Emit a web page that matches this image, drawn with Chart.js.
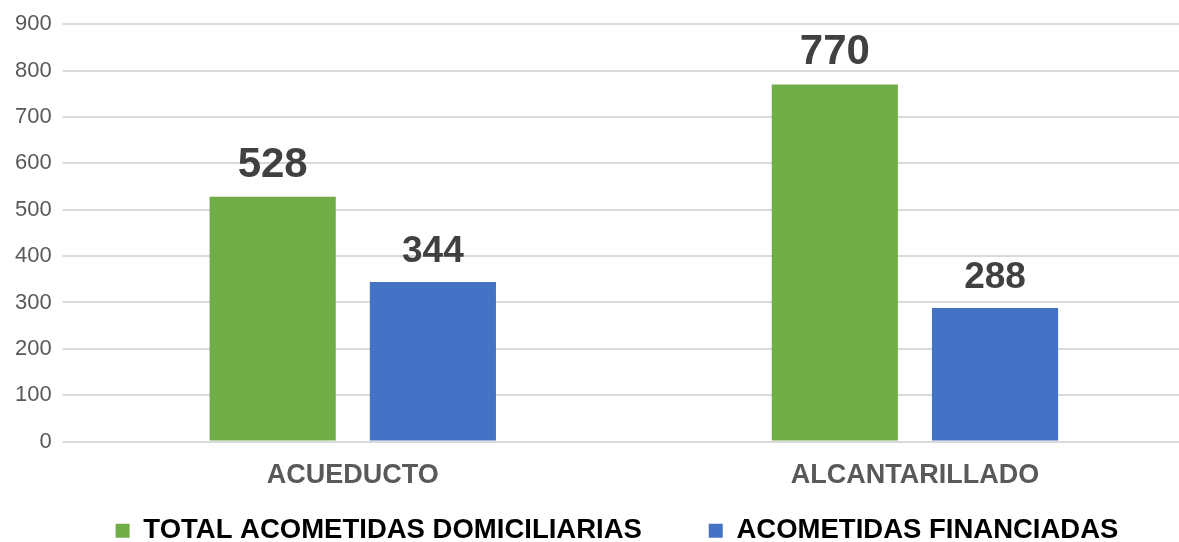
<!DOCTYPE html>
<html>
<head>
<meta charset="utf-8">
<script src="https://cdn.jsdelivr.net/npm/chart.js@4.4.0/dist/chart.umd.min.js"></script>
<style>
  html, body { margin: 0; padding: 0; background: #fff; overflow: hidden; }
  #wrap { position: relative; width: 1230px; height: 542px; }
</style>
</head>
<body>
<div id="wrap"><canvas id="acometidasChart"></canvas></div>
<script>
// data
const categories = ['ACUEDUCTO', 'ALCANTARILLADO'];
const totalAcometidas = [528, 770];
const acometidasFinanciadas = [344, 288];
const seriesNames = ['TOTAL ACOMETIDAS DOMICILIARIAS', 'ACOMETIDAS FINANCIADAS'];

const FONT = "'Liberation Sans', Arial, sans-serif";

// value labels above the bars
const barLabels = {
    id: 'barLabels',
    afterDatasetsDraw(chart) {
        const ctx = chart.ctx;
        ctx.save();
        ctx.fillStyle = '#404040';
        ctx.textAlign = 'center';
        ctx.textBaseline = 'alphabetic';
        chart.data.datasets.forEach(function (ds, i) {
            const size = i === 0 ? 42 : 37;
            ctx.font = 'bold ' + size + 'px ' + FONT;
            chart.getDatasetMeta(i).data.forEach(function (bar, j) {
                ctx.fillText(ds.data[j], bar.x, bar.y - 20);
            });
        });
        ctx.restore();
    }
};

document.addEventListener('DOMContentLoaded', function () {
    const ctx = document.getElementById('acometidasChart').getContext('2d');
    new Chart(ctx, {
        type: 'bar',
        data: {
            labels: categories,
            datasets: [
                {
                    label: seriesNames[0],
                    data: totalAcometidas,
                    backgroundColor: '#70AD47',
                },
                {
                    label: seriesNames[1],
                    data: acometidasFinanciadas,
                    backgroundColor: '#4472C4',
                }
            ]
        },
        options: {
            responsive: true,
            maintainAspectRatio: false,
            animation: false,
            categoryPercentage: 0.57,
            barPercentage: 0.7875,
            layout: {
                padding: { top: 7, right: 0, bottom: -6, left: 4 }
            },
            plugins: {
                legend: {
                    position: 'bottom',
                    maxHeight: 52,
                    labels: {
                        boxWidth: 14,
                        boxHeight: 14,
                        padding: 21,
                        color: '#000',
                        font: { family: FONT, size: 27.5, weight: 'bold' },
                        generateLabels: function (chart) {
                            const items = Chart.defaults.plugins.legend.labels.generateLabels(chart);
                            // wider gap between the two entries
                            items[0].text += '\u00A0\u00A0\u00A0\u00A0\u00A0\u00A0';
                            return items;
                        }
                    }
                },
                tooltip: { enabled: false }
            },
            scales: {
                x: {
                    grid: { display: false, drawTicks: false },
                    border: { display: false },
                    ticks: {
                        color: '#595959',
                        padding: 18,
                        font: { family: FONT, size: 27, weight: 'bold' }
                    },
                    afterFit: function (scale) { scale.height = scale.height - 14; }
                },
                y: {
                    min: 0,
                    max: 900,
                    border: { display: false },
                    grid: {
                        color: '#d9d9d9',
                        lineWidth: 2,
                        drawTicks: true,
                        tickLength: 9
                    },
                    ticks: {
                        stepSize: 100,
                        color: '#595959',
                        padding: 11,
                        font: { family: FONT, size: 22 }
                    }
                },
                // empty spacer on the right so the plot ends before the legend edge
                yRight: {
                    position: 'right',
                    display: true,
                    grid: { display: false, drawTicks: false },
                    border: { display: false },
                    ticks: { display: false },
                    afterFit: function (scale) { scale.width = 34; }
                }
            }
        },
        plugins: [barLabels]
    });
});
</script>
</body>
</html>
